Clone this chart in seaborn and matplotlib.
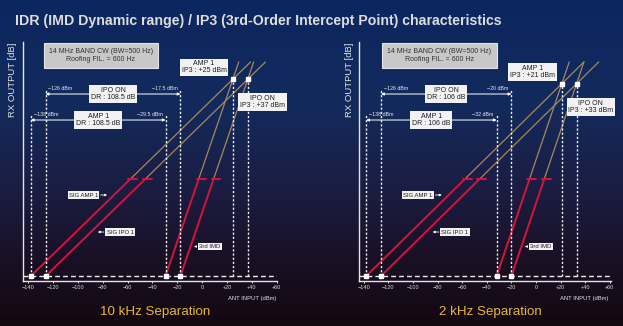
import numpy as np
import pandas as pd
import matplotlib
matplotlib.use("Agg")
import matplotlib.pyplot as plt
import seaborn as sns
from matplotlib.colors import LinearSegmentedColormap

# ---------------- data ----------------
panel_titles = ["10 kHz Separation", "2 kHz Separation"]
mds_amp1 = [-138, -138]          # dBm, AMP 1 noise floor
mds_ipo = [-126, -126]           # dBm, IPO ON noise floor
imd_amp1 = [-29.5, -32]          # dBm, AMP 1 input where IMD = noise
imd_ipo = [-17.5, -20]           # dBm, IPO ON input where IMD = noise
ip3_amp1 = [25, 21]              # dBm
ip3_ipo = [37, 33]               # dBm
dr_amp1 = [108.5, 106]           # dB
dr_ipo = [108.5, 106]            # dB
red_top_db = 80                  # output level where the measured (red) part ends
line_end_db = 177                # output level where extrapolated lines end
x_ticks = [-140, -120, -100, -80, -60, -40, -20, 0, 20, 40, 60]
x_tick_labels = ["−140", "−120", "−100", "−80", "−60", "−40", "−20", "0", "+20", "+40", "+60"]
info_lines = ["14 MHz BAND CW (BW=500 Hz)", "Roofing FIL. = 600 Hz"]

# ---------------- style ----------------
sns.set_theme(style="white")
plt.rcParams["font.family"] = ["Liberation Sans", "DejaVu Sans"]

W, H = 623, 326
fig = plt.figure(figsize=(W / 100, H / 100), dpi=100)


def fx(px):
    return px / W


def fy(py):
    return 1 - py / H


# background gradient
bg = fig.add_axes([0, 0, 1, 1], zorder=-10)
cmap = LinearSegmentedColormap.from_list(
    "bg",
    [(0.0, "#0c2760"), (0.33, "#132a5c"), (0.58, "#1b1d42"), (0.78, "#1a1127"), (1.0, "#130810")],
)
grad = np.linspace(0, 1, 300).reshape(-1, 1)
bg.imshow(grad, aspect="auto", cmap=cmap, extent=[0, 1, 0, 1], origin="upper")
bg.set_axis_off()

RED = "#d4143c"
TAN = "#a8875c"
WHITE = "#ececec"
BOXTXT = "#1c1c28"
GOLD = "#e6b73a"

ax_boxes = [[23, 254], [359, 252]]
xlims = [(-144.3, 60.3), (-143.9, 61.0)]
ylim = (-4.1, 193.5)
arrow_y_ipo, arrow_y_amp = 150.5, 129.0
info_x = [0.307, 0.319]
ant_x = [0.996, 0.988]
ylab_px = [13, 349]
sep_px = [155, 490]

fig.text(fx(15), fy(21), "IDR (IMD Dynamic range) / IP3 (3rd-Order Intercept Point) characteristics",
         family=["Liberation Sans Narrow", "Liberation Sans"], fontweight="bold", fontsize=10.2,
         color="#dcdcdc", ha="left", va="center")

for i in range(2):
    left, width = ax_boxes[i]
    ax = fig.add_axes([fx(left), 45 / H, width / W, 239 / H])
    ax.set_facecolor("none")
    ax.set_xlim(*xlims[i])
    ax.set_ylim(*ylim)

    # traces: (start input, slope)
    traces = [
        ("amp_f", mds_amp1[i], 1),
        ("ipo_f", mds_ipo[i], 1),
        ("amp_imd", imd_amp1[i], 3),
        ("ipo_imd", imd_ipo[i], 3),
    ]
    red_rows, tan_rows = [], []
    for name, x0, s in traces:
        xr = x0 + red_top_db / s
        xe = x0 + line_end_db / s
        red_rows += [(name, x0, 0.0), (name, xr, red_top_db)]
        red_rows += [(name + "_cap", xr - 1.6, red_top_db), (name + "_cap", xr + 5.6, red_top_db)]
        tan_rows += [(name, xr, red_top_db), (name, xe, line_end_db)]
    df_red = pd.DataFrame(red_rows, columns=["seg", "x", "y"])
    df_tan = pd.DataFrame(tan_rows, columns=["seg", "x", "y"])
    sns.lineplot(data=df_tan, x="x", y="y", units="seg", estimator=None, sort=False,
                 color=TAN, lw=0.9, ax=ax, legend=False)
    sns.lineplot(data=df_red, x="x", y="y", units="seg", estimator=None, sort=False,
                 color=RED, lw=1.4, ax=ax, legend=False)

    # dashed baseline
    ax.plot([xlims[i][0], 60], [0, 0], color=WHITE, lw=1.0, dashes=(3.5, 2.2), zorder=3)

    # vertical dashed markers
    y_ip3_amp = ip3_amp1[i] - mds_amp1[i]
    y_ip3_ipo = ip3_ipo[i] - mds_ipo[i]
    vlines = [
        (mds_amp1[i], arrow_y_amp + 4),
        (imd_amp1[i], arrow_y_amp + 4),
        (mds_ipo[i], arrow_y_ipo + 4),
        (imd_ipo[i], arrow_y_ipo + 4),
        (ip3_amp1[i], y_ip3_amp),
        (ip3_ipo[i], y_ip3_ipo),
    ]
    for xv, ytop in vlines:
        ax.plot([xv, xv], [0, ytop], color=WHITE, lw=1.0, dashes=(1.6, 1.4), zorder=3)
    ax.plot([mds_amp1[i], mds_ipo[i], imd_amp1[i], imd_ipo[i]], [0, 0, 0, 0], "s",
            color="white", ms=2.6, zorder=5)
    ax.plot([ip3_amp1[i], ip3_ipo[i]], [y_ip3_amp, y_ip3_ipo], "s", color="white", ms=2.6, zorder=5)

    # DR arrows
    for (x0, x1, ya, who, dr) in [
        (mds_ipo[i], imd_ipo[i], arrow_y_ipo, "IPO ON", dr_ipo[i]),
        (mds_amp1[i], imd_amp1[i], arrow_y_amp, "AMP 1", dr_amp1[i]),
    ]:
        ax.annotate("", xy=(x0, ya), xytext=(x1, ya),
                    arrowprops=dict(arrowstyle="<|-|>", color="white", lw=0.7,
                                    mutation_scale=4, shrinkA=0, shrinkB=0), zorder=4)
        ax.annotate(f"{x0:g} dBm".replace("-", "−"), xy=(x0, ya), xytext=(2, 4),
                    textcoords="offset points", ha="left", va="center",
                    fontsize=3.8, color=WHITE)
        ax.annotate(f"{x1:g} dBm".replace("-", "−"), xy=(x1, ya), xytext=(-2, 4),
                    textcoords="offset points", ha="right", va="center",
                    fontsize=3.8, color=WHITE)
        ax.text((x0 + x1) / 2, ya, f"{who}\nDR : {dr:g} dB", ha="center", va="center",
                fontsize=5.0, color=BOXTXT, linespacing=1.05, zorder=6,
                bbox=dict(boxstyle="square,pad=0.25", fc="#f2f2f2", ec="none"))

    # IP3 labels
    ax.annotate(f"AMP 1\nIP3 : {ip3_amp1[i]:+g} dBm", xy=(ip3_amp1[i], y_ip3_amp),
                xytext=(-21, 8.3), textcoords="offset points", ha="center", va="center",
                fontsize=5.0, color=BOXTXT, linespacing=1.05, zorder=6,
                bbox=dict(boxstyle="square,pad=0.25", fc="#f2f2f2", ec="none"))
    ax.annotate(f"IPO ON\nIP3 : {ip3_ipo[i]:+g} dBm", xy=(ip3_ipo[i], y_ip3_ipo),
                xytext=(10.3, -16.5), textcoords="offset points", ha="center", va="center",
                fontsize=5.0, color=BOXTXT, linespacing=1.05, zorder=6,
                bbox=dict(boxstyle="square,pad=0.25", fc="#f2f2f2", ec="none"))

    # info box
    ax.text(info_x[i], 0.943, "\n".join(info_lines), transform=ax.transAxes,
            ha="center", va="center", fontsize=5.0, color="#333333", linespacing=1.25,
            bbox=dict(boxstyle="square,pad=0.75", fc="#c8c8c8", ec="#e6e6e6", lw=0.8))

    # line labels
    lab_kw = dict(textcoords="offset points", ha="center", va="center", fontsize=4.3,
                  color=BOXTXT, zorder=6,
                  bbox=dict(boxstyle="square,pad=0.2", fc="#f2f2f2", ec="none"))
    ys = 67.0
    ax.annotate("SIG AMP 1", xy=(mds_amp1[i] + ys, ys), xytext=(-22, 0),
                arrowprops=dict(arrowstyle="-|>", color="white", lw=0.6, mutation_scale=3,
                                shrinkA=1, shrinkB=5), **lab_kw)
    ys = 36.4
    ax.annotate("SIG IPO 1", xy=(mds_ipo[i] + ys, ys), xytext=(21, 0),
                arrowprops=dict(arrowstyle="-|>", color="white", lw=0.6, mutation_scale=3,
                                shrinkA=1, shrinkB=5), **lab_kw)
    ys = 24.4
    ax.annotate("3rd IMD", xy=(imd_ipo[i] + ys / 3, ys), xytext=(14, 0),
                arrowprops=dict(arrowstyle="-|>", color="white", lw=0.6, mutation_scale=3,
                                shrinkA=1, shrinkB=2.5), **lab_kw)

    # axes styling
    sns.despine(ax=ax, top=True, right=True)
    for sp in ["left", "bottom"]:
        ax.spines[sp].set_color("#e4e4e4")
        ax.spines[sp].set_linewidth(1.0)
    ax.set_xticks(x_ticks)
    ax.set_xticklabels(x_tick_labels)
    ax.set_yticks([])
    ax.tick_params(axis="x", colors="white", labelcolor="#d8d8d8", labelsize=4.0,
                   length=1.6, width=0.6, pad=1.6, direction="out", bottom=True)
    ax.set_xlabel("")
    ax.set_ylabel("")
    ax.grid(False)

    ax.text(ant_x[i], -0.075, "ANT INPUT (dBm)", transform=ax.transAxes, ha="right",
            va="center", fontsize=4.2, color="#e0e0e0")
    fig.text(fx(ylab_px[i]), fy(80), "RX OUTPUT [dB]", rotation=90, ha="center", va="center",
             fontsize=6.8, color="#e2e2e2")
    fig.text(fx(sep_px[i]), fy(312), panel_titles[i], ha="center", va="center",
             fontsize=9.6, color=GOLD)

fig.savefig("out.png", dpi=100)
